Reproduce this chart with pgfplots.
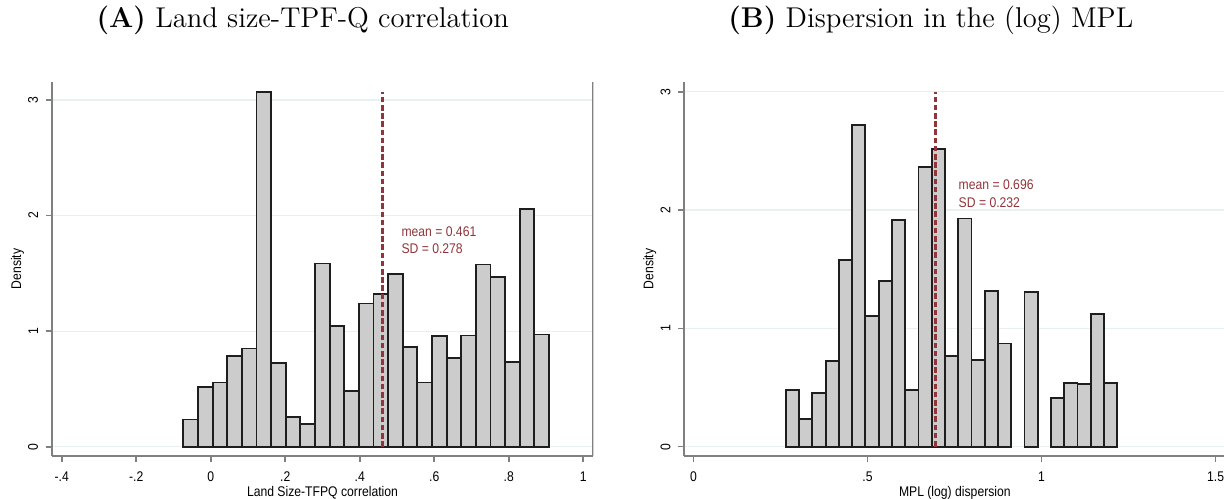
\documentclass[border=0pt]{standalone}
\usepackage{pgfplots}
\pgfplotsset{compat=1.18}
\usepackage{graphicx}
\usepackage{fontspec}
\newfontfamily\arialf{Liberation Sans}
\definecolor{cran}{RGB}{144,53,59}
\definecolor{gridc}{RGB}{232,240,242}
\definecolor{axc}{RGB}{128,128,128}
\definecolor{barf}{RGB}{204,204,204}
\definecolor{bard}{RGB}{30,30,30}
\newcommand\cond[1]{\scalebox{0.87}[1]{#1}}
\newcommand\sfs{\arialf\fontsize{7}{8}\selectfont}
\pgfplotsset{stataaxis/.style={
  scale only axis, width=270.8pt, height=187.15pt,
  anchor=south west,
  axis x line=bottom, axis y line=left,
  axis line style={axc, line width=0.9pt, -},
  tick style={axc, line width=0.8pt}, tick align=outside, major tick length=3pt,
  ymajorgrids, grid style={gridc, line width=0.6pt},
  ytick={0,1,2,3}, yticklabels={\cond{0},\cond{1},\cond{2},\cond{3}},
  ticklabel style={font=\sfs},
  xticklabel style={anchor=north, inner sep=0pt, yshift=-4.7pt},
  yticklabel style={rotate=90, anchor=south, inner xsep=0pt, inner ysep=3.6pt},
  xlabel style={at={(axis description cs:0.5,0)}, anchor=base, yshift=-20.35pt, inner sep=0pt, font=\sfs},
  ylabel style={at={(axis description cs:-0.0631,0.5)}, anchor=center, inner sep=0pt, font=\sfs},
  title style={at={(axis description cs:0.5,1)}, anchor=base, yshift=21.2pt, inner sep=0pt, font=\fontsize{14.3}{16}\selectfont},
}}
\begin{document}
\begin{tikzpicture}
\useasboundingbox (0,0) rectangle (612pt,249pt);
\begin{axis}[stataaxis, at={(25.85pt,21pt)},
  xmin=-0.427, xmax=1.027, ymin=-0.080, ymax=3.158,
  xtick={-0.4,-0.2,0,0.2,0.4,0.6,0.8,1},
  xticklabels={\cond{-.4},\cond{-.2},\cond{0},\cond{.2},\cond{.4},\cond{.6},\cond{.8},\cond{1}},
  xlabel={\cond{Land Size-TFPQ correlation}}, ylabel={\cond{Density}},
  title={\textbf{(A)} Land size-TPF-Q correlation}, title style={xshift=-9.85pt}]
\addplot[ybar interval, fill=barf, draw=bard, line width=0.9pt] coordinates {
(-0.0735,0.236) (-0.0342,0.516) (0.0050,0.556) (0.0443,0.784) (0.0836,0.850) (0.1228,3.069) (0.1621,0.726) (0.2013,0.259) (0.2406,0.196) (0.2799,1.585) (0.3191,1.046) (0.3584,0.481) (0.3976,1.239) (0.4369,1.323) (0.4761,1.496) (0.5154,0.865) (0.5547,0.556) (0.5939,0.957) (0.6332,0.769) (0.6724,0.963) (0.7117,1.576) (0.7510,1.470) (0.7902,0.735) (0.8295,2.058) (0.8687,0.971) (0.9080,0)};
\addplot[cran, line width=1.5pt, dash pattern=on 2.8pt off 1.3pt] coordinates {(0.461,0) (0.461,3.07)};
\node[anchor=west, text=cran, font=\sfs, inner sep=0pt] at (axis cs:0.511,1.860) {\cond{mean = 0.461}};
\node[anchor=west, text=cran, font=\sfs, inner sep=0pt] at (axis cs:0.511,1.711) {\cond{SD = 0.278}};
\draw[axc, line width=0.9pt] (rel axis cs:1,0) -- (rel axis cs:1,1);
\end{axis}
\begin{axis}[stataaxis, at={(342pt,21pt)}, width=270.85pt,
  xmin=-0.027, xmax=1.529, ymin=-0.079, ymax=3.085,
  xtick={0,0.5,1,1.5},
  xticklabels={\cond{0},\cond{.5},\cond{1},\cond{1.5}},
  xlabel={\cond{MPL (log) dispersion}}, ylabel={\cond{Density}},
  title={\textbf{(B)} Dispersion in the (log) MPL}, title style={xshift=-12pt}]
\addplot[ybar interval, fill=barf, draw=bard, line width=0.9pt] coordinates {
(0.2654,0.481) (0.3035,0.231) (0.3416,0.455) (0.3797,0.725) (0.4178,1.580) (0.4559,2.716) (0.4939,1.102) (0.5320,1.403) (0.5701,1.915) (0.6082,0.481) (0.6463,2.367) (0.6844,2.513) (0.7225,0.767) (0.7606,1.929) (0.7987,0.731) (0.8368,1.316) (0.8748,0.872) (0.9129,0)};
\addplot[ybar interval, fill=barf, draw=bard, line width=0.9pt] coordinates {(0.9510,1.310) (0.9891,0)};
\addplot[ybar interval, fill=barf, draw=bard, line width=0.9pt] coordinates {
(1.0272,0.408) (1.0653,0.537) (1.1034,0.529) (1.1415,1.122) (1.1796,0.537) (1.2177,0)};
\addplot[cran, line width=1.5pt, dash pattern=on 2.8pt off 1.3pt] coordinates {(0.696,0) (0.696,3.0)};
\node[anchor=west, text=cran, font=\sfs, inner sep=0pt] at (axis cs:0.761,2.217) {\cond{mean = 0.696}};
\node[anchor=west, text=cran, font=\sfs, inner sep=0pt] at (axis cs:0.761,2.065) {\cond{SD = 0.232}};
\draw[axc, line width=0.9pt] (rel axis cs:1,0) -- (rel axis cs:1,1);
\end{axis}
\end{tikzpicture}
\end{document}
